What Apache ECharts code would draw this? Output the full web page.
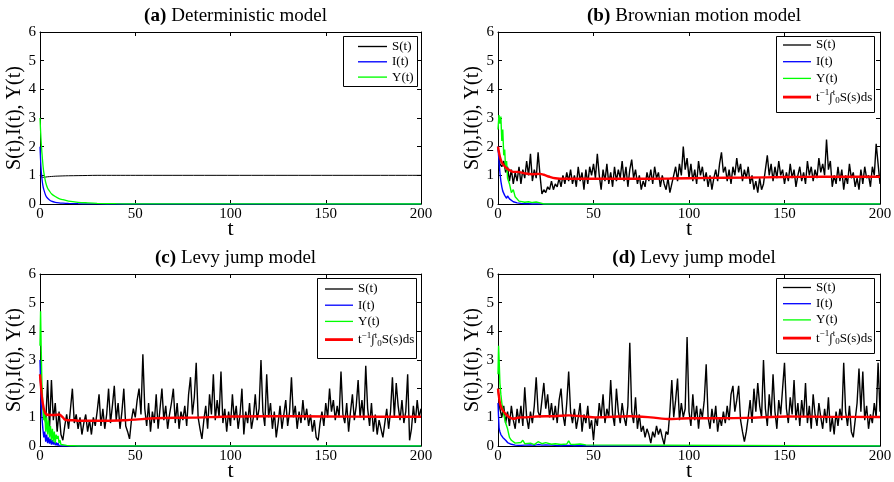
<!DOCTYPE html>
<html>
<head>
<meta charset="utf-8">
<script src="https://cdn.jsdelivr.net/npm/echarts@6/dist/echarts.min.js"></script>
<style>
html,body{margin:0;padding:0;background:#fff;}
#c{width:894px;height:482px;}
</style>
</head>
<body>
<div id="c"></div>
<script>
// ---------- DATA ----------
const panelTitles = [['(a)', 'Deterministic model'], ['(b)', 'Brownian motion model'], ['(c)', 'Levy jump model'], ['(d)', 'Levy jump model']];
const xTicks = [0, 50, 100, 150, 200];
const yTicks = [0, 1, 2, 3, 4, 5, 6];
const seriesNames = ['S(t)', 'I(t)', 'Y(t)', 'avg'];

// (a) deterministic
const tA = [0,0.5,1,1.5,2,3,4,5,6,8,10,12,15,20,25,30,40,50,200];
const sA = [1.0,0.96,0.94,0.93,0.93,0.94,0.95,0.955,0.96,0.97,0.975,0.98,0.985,0.99,0.995,1.0,1.0,1.0,1.0];
const iA = [2.0,1.3,0.9,0.65,0.5,0.3,0.2,0.14,0.1,0.06,0.04,0.03,0.02,0.01,0.005,0.002,0,0,0];
const yA = [3.0,2.3,1.8,1.4,1.1,0.75,0.55,0.45,0.36,0.26,0.19,0.15,0.1,0.06,0.04,0.025,0.01,0.005,0];

// (b) Brownian motion: S(t) at t = 0,1,...,200
const sB = [
2.0,1.4,1.3,1.5,1.1,1.3,0.8,1.2,0.7,1.1,
0.8,1.3,0.7,1.2,0.9,1.5,1.0,1.75,0.8,1.2,
0.9,1.8,1.0,0.35,0.5,0.4,0.6,0.5,0.8,0.5,
0.7,0.6,0.9,0.6,1.0,0.7,1.1,0.8,1.2,0.7,
1.0,0.6,1.3,0.8,1.1,0.5,1.2,0.7,1.3,1.0,
1.4,0.9,1.75,1.0,0.5,1.2,0.8,1.4,0.7,1.1,
0.6,1.3,0.8,1.2,0.9,1.5,0.8,1.3,0.6,1.2,
1.55,0.9,1.2,0.7,1.0,0.5,0.8,0.6,1.1,0.8,
1.2,0.7,1.3,0.9,1.1,0.6,1.0,0.7,0.5,0.9,
0.4,0.7,1.0,1.3,0.8,1.4,1.0,2.0,1.2,1.6,
0.9,1.4,0.8,1.2,0.7,1.5,1.0,1.3,0.8,1.1,
0.6,1.0,0.5,0.9,1.2,0.8,1.4,1.8,1.1,1.3,
0.8,1.2,0.7,1.3,1.0,1.6,1.1,1.4,0.8,1.2,
0.9,1.3,0.7,1.0,0.5,0.8,0.4,0.9,0.5,0.7,
1.2,1.7,1.0,1.4,0.8,1.3,0.9,1.5,1.0,1.2,
0.7,1.1,0.8,1.4,0.9,1.2,0.6,1.0,1.3,0.8,
1.1,0.7,1.5,1.0,1.3,0.8,1.2,0.9,1.6,1.1,
1.4,1.0,2.25,1.2,1.5,0.6,1.0,0.7,1.3,0.8,
1.2,0.5,1.0,0.7,1.4,0.9,1.1,0.6,0.9,0.5,
1.2,0.7,1.3,0.9,1.0,0.6,1.3,1.0,2.1,1.4,
0.7];
const tB = [0,0.5,1,1.5,2,2.5,3,3.5,4,4.5,5,6,7,8,9,10,11,12,14,16,18,20,22,23,24,200];
const iB = [2.0,1.5,1.1,0.8,0.6,0.45,0.5,0.3,0.35,0.2,0.28,0.18,0.15,0.08,0.1,0.04,0.05,0.02,0.01,0.01,0,0,0,0,0,0];
const yB = [2.6,3.1,2.8,3.05,2.2,2.6,1.7,1.9,1.2,1.5,0.9,0.7,0.4,0.5,0.25,0.2,0.1,0.12,0.06,0.08,0.05,0.07,0.04,0.06,0,0];
const avgTB = [0,1,2,3,4,5,6,8,10,14,18,22,24,27,30,35,50,70,90,110,130,150,170,200];
const avgB = [2.0,1.65,1.45,1.35,1.28,1.22,1.18,1.12,1.12,1.07,1.04,1.05,1.02,0.95,0.9,0.88,0.88,0.88,0.89,0.91,0.92,0.94,0.95,0.95];

// (c) Levy jump model
const sC = [
2.5,1.6,1.2,0.8,2.3,0.6,2.3,0.9,1.5,0.5,
1.2,0.4,0.2,0.7,1.1,0.6,1.3,2.0,0.8,1.1,
0.6,1.0,0.4,0.8,1.1,0.5,0.9,0.4,1.0,0.7,
1.2,1.8,0.7,1.3,0.6,1.1,2.0,0.8,1.4,2.1,
0.9,1.5,0.6,1.2,2.0,0.7,0.5,0.25,0.9,1.3,
1.0,1.6,2.0,1.1,3.2,1.3,0.7,1.5,0.5,1.2,
0.8,1.8,0.6,1.3,2.0,0.9,1.4,0.6,1.1,1.5,
2.0,0.8,1.5,0.6,1.2,0.9,1.4,0.7,1.8,2.4,
1.1,1.7,2.9,1.0,0.6,0.25,0.9,1.4,0.6,1.8,
1.1,2.5,0.9,1.6,1.0,2.6,0.8,1.3,0.5,1.2,
0.7,1.8,0.9,1.4,0.6,1.1,2.0,0.4,1.2,0.8,
1.5,0.6,1.0,1.8,0.9,1.3,3.0,1.2,0.7,2.5,
1.0,1.5,0.6,1.2,0.3,0.8,1.4,0.6,1.1,1.6,
0.7,1.2,2.4,1.0,1.4,0.6,1.2,0.8,1.6,0.9,
1.3,0.7,1.1,0.5,0.9,0.3,0.2,0.8,1.2,0.7,
1.5,1.0,2.0,1.2,1.6,0.9,1.4,1.0,2.6,1.1,
0.8,1.5,0.5,1.2,1.8,0.9,1.4,2.3,1.0,1.6,
0.9,2.8,1.3,0.7,1.5,0.5,1.1,0.4,0.9,0.6,
0.3,0.8,1.3,0.6,1.2,2.4,1.0,2.2,1.4,0.9,
1.6,0.8,1.2,2.5,0.2,0.6,1.4,0.8,1.6,1.0,
1.3];
const tC = [0,0.3,0.6,1,1.5,2,2.5,3,3.5,4,4.5,5,5.5,6,6.5,7,7.5,8,8.5,9,9.5,10,10.5,11,12,14,16,18,20,200];
const iC = [3.0,2.2,1.5,1.0,0.6,0.3,0.5,0.15,0.4,0.1,0.3,0.08,0.25,0.05,0.2,0.05,0.15,0.03,0.12,0.02,0.1,0.01,0.05,0,0,0,0,0,0,0];
const yC = [3.5,4.7,3.5,2.2,1.4,0.9,1.2,0.5,1.0,0.4,0.9,0.3,0.7,0.2,0.6,0.15,0.5,0.1,0.4,0.25,0.35,0.1,0.2,0.05,0.02,0.02,0.01,0.01,0,0];
const avgTC = [0,0.5,1,2,3,5,8,10,12,13,15,18,20,25,35,45,50,60,80,100,120,150,180,200];
const avgC = [2.5,2.1,1.7,1.3,1.12,1.08,1.08,1.1,1.0,0.92,0.9,0.9,0.88,0.88,0.88,0.9,0.92,0.97,0.99,1.03,1.04,1.03,1.02,1.02];

// (d) Levy jump model
const sD = [
2.0,1.3,1.0,1.4,0.8,1.2,0.7,1.4,0.9,0.6,
1.3,0.8,1.4,0.7,2.05,1.0,0.6,1.2,0.8,1.4,
2.4,1.2,1.0,1.6,2.2,1.3,1.8,1.0,1.5,0.9,
1.4,0.8,1.6,2.0,1.1,0.7,1.5,2.6,1.2,0.8,
1.3,0.6,1.0,1.5,0.5,1.1,0.8,1.4,0.6,0.9,
0.2,1.0,0.7,1.5,1.0,1.8,0.8,1.3,1.0,2.3,
1.1,0.7,2.0,1.2,0.8,1.5,1.0,0.7,1.4,3.6,
1.2,0.8,1.7,0.6,1.1,0.5,0.7,0.3,0.6,0.4,
0.1,0.5,0.3,0.7,0.4,0.6,0.3,0.05,0.5,0.4,
1.2,2.3,1.0,1.6,2.35,0.9,1.5,1.0,1.3,3.8,
1.2,0.7,1.8,0.9,1.4,0.6,1.3,1.0,1.6,2.85,
1.0,0.6,1.3,0.8,1.4,0.5,1.0,0.7,1.2,0.8,
1.4,0.9,1.8,2.1,1.2,1.6,2.1,0.9,0.5,0.15,
0.5,1.0,1.6,0.8,2.0,1.2,2.2,1.4,1.0,3.0,
1.3,0.7,1.8,1.0,2.5,1.2,0.6,1.6,1.1,2.0,
2.9,1.3,0.8,1.7,1.1,2.3,0.9,1.5,0.7,1.6,
1.0,2.2,0.8,1.4,0.6,1.8,1.1,0.7,1.5,1.0,
0.6,1.3,0.8,1.7,0.5,1.0,0.4,1.2,0.7,1.3,
0.9,2.9,1.2,0.7,1.4,0.5,0.3,0.9,1.5,2.7,
1.2,2.6,0.9,1.4,0.6,1.1,0.8,1.5,1.0,2.9,
1.2];
const tD = [0,0.3,0.6,1,1.5,2,2.5,3,4,5,6,7,8,9,10,12,13,14,15,17,19,21,23,25,26,28,30,33,36,37,38,40,43,46,47,200];
const iD = [1.5,1.0,0.6,0.5,0.4,0.35,0.3,0.25,0.2,0.12,0.08,0.06,0.05,0.03,0.04,0.02,0.05,0.03,0.02,0.04,0.02,0.05,0.03,0.04,0.02,0.03,0.02,0.01,0.02,0.04,0.02,0.01,0.02,0.01,0,0];
const yD = [2.5,3.5,3.0,2.2,1.8,1.5,1.3,1.1,0.8,0.6,0.3,0.2,0.15,0.1,0.08,0.12,0.2,0.08,0.06,0.1,0.05,0.15,0.08,0.12,0.15,0.06,0.08,0.05,0.07,0.18,0.06,0.05,0.07,0.04,0,0];
const avgTD = [0,1,2,3,4,6,8,10,12,15,20,30,37,45,51,60,69,80,90,100,115,130,152,170,200];
const avgD = [2.0,1.5,1.3,1.2,1.12,1.0,0.95,0.98,1.0,1.0,1.03,1.04,1.07,1.03,1.0,1.02,1.04,1.0,0.94,0.97,0.97,0.98,1.03,1.02,1.01];

// ---------- BUILD ----------
const FONT = '"Liberation Serif", "Times New Roman", serif';
const pairs = (ts, vs) => ts.map((t, i) => [t, vs[i]]);
const unitPairs = (vs) => vs.map((v, i) => [i, v]);

const grids = [
  {left: 40, top: 32, width: 381, height: 172},
  {left: 498, top: 32, width: 382, height: 172},
  {left: 40, top: 274, width: 381, height: 172},
  {left: 498, top: 274, width: 382, height: 172}
];

const xAxes = [], yAxes = [];
grids.forEach((g, i) => {
  const common = {
    gridIndex: i, type: 'value',
    axisLine: {show: true, onZero: false, lineStyle: {color: '#000', width: 1}},
    axisTick: {show: true, inside: true, length: 4, lineStyle: {color: '#000'}},
    splitLine: {show: false}
  };
  const xr = {min: xTicks[0], max: xTicks[xTicks.length - 1], interval: xTicks[1] - xTicks[0]};
  const yr = {min: yTicks[0], max: yTicks[yTicks.length - 1], interval: yTicks[1] - yTicks[0]};
  xAxes.push(Object.assign({}, common, xr, {
    axisLabel: {fontFamily: FONT, fontSize: 15, color: '#000', margin: 3},
    name: 't', nameLocation: 'middle', nameGap: 14, nameMoveOverlap: false,
    nameTextStyle: {fontFamily: FONT, fontSize: 22, color: '#000'}
  }));
  xAxes.push(Object.assign({}, common, xr, {position: 'top', axisLabel: {show: false}}));
  yAxes.push(Object.assign({}, common, yr, {
    axisLabel: {fontFamily: FONT, fontSize: 15, color: '#000', margin: 4},
    name: 'S(t),I(t), Y(t)', nameLocation: 'middle', nameGap: 15, nameRotate: 90, nameMoveOverlap: false,
    nameTextStyle: {fontFamily: FONT, fontSize: 20, color: '#000'}
  }));
  yAxes.push(Object.assign({}, common, yr, {position: 'right', axisLabel: {show: false}}));
});

const BLACK = '#000000', BLUE = '#0000ff', GREEN = '#00ff00', RED = '#ff0000';
const nameColor = {'S(t)': BLACK, 'I(t)': BLUE, 'Y(t)': GREEN, 'avg': RED};

function line(name, panel, data, width, smooth) {
  const color = nameColor[name];
  return {
    name: name, type: 'line', xAxisIndex: panel * 2, yAxisIndex: panel * 2,
    data: data, symbol: 'none', showSymbol: false, smooth: smooth || false,
    lineStyle: {color: color, width: width}, itemStyle: {color: color},
    animation: false, silent: true, clip: true
  };
}

const series = [
  line('S(t)', 0, pairs(tA, sA), 1, 0.3),
  line('I(t)', 0, pairs(tA, iA), 1.3, 0.3),
  line('Y(t)', 0, pairs(tA, yA), 1.3, 0.3),

  line('S(t)', 1, unitPairs(sB), 1.4),
  line('I(t)', 1, pairs(tB, iB), 1.4),
  line('Y(t)', 1, pairs(tB, yB), 1.4),
  line('avg', 1, pairs(avgTB, avgB), 2.4, 0.3),

  line('S(t)', 2, unitPairs(sC), 1.4),
  line('I(t)', 2, pairs(tC, iC), 1.4),
  line('Y(t)', 2, pairs(tC, yC), 1.4),
  line('avg', 2, pairs(avgTC, avgC), 2.4, 0.3),

  line('S(t)', 3, unitPairs(sD), 1.4),
  line('I(t)', 3, pairs(tD, iD), 1.4),
  line('Y(t)', 3, pairs(tD, yD), 1.4),
  line('avg', 3, pairs(avgTD, avgD), 2.4, 0.3)
];

const titles = panelTitles.map((pt, i) => ({
  text: '{b|' + pt[0] + '} {r|' + pt[1] + '}',
  left: grids[i].left + grids[i].width / 2,
  top: i < 2 ? 2 : 244,
  textAlign: 'center',
  textStyle: {
    rich: {
      b: {fontFamily: FONT, fontSize: 19, fontWeight: 'bold', color: '#000'},
      r: {fontFamily: FONT, fontSize: 19, fontWeight: 'normal', color: '#000'}
    }
  }
}));

const legendRich = {
  n: {fontFamily: FONT, fontSize: 13, color: '#000'},
  sup: {fontFamily: FONT, fontSize: 9, color: '#000', verticalAlign: 'top', lineHeight: 10},
  sub: {fontFamily: FONT, fontSize: 9, color: '#000', verticalAlign: 'bottom', padding: [8, 0, 0, 0]}
};
function legendFmt(name) {
  if (name === 'avg') return '{n|t}{sup|−1}{n|∫}{sup|t}{sub|0}{n|S(s)ds}';
  return '{n|' + name + '}';
}
const THIN = 'path://M0,0 H30 V1.4 H0 Z';
const THICK = 'path://M0,0 H30 V3 H0 Z';
// box: frame rectangle; left/top: first legend icon position
const legendPos = [
  {box: [343, 36, 74, 50], left: 358, top: 40, w: 29, gap: 2.3, n: 3},
  {box: [776, 36, 98, 76], left: 783, top: 38.5, w: 28, gap: 3.7, n: 4},
  {box: [317, 278, 99, 80], left: 325, top: 282.5, w: 28, gap: 3.2, n: 4},
  {box: [776, 278, 98, 75], left: 783, top: 281, w: 28, gap: 3.2, n: 4}
];
const legends = legendPos.map(lp => ({
  data: seriesNames.slice(0, lp.n).map(n => ({
    name: n, icon: n === 'avg' ? THICK : THIN, itemStyle: {color: nameColor[n]}
  })),
  orient: 'vertical', left: lp.left, top: lp.top,
  itemWidth: lp.w, itemHeight: 13, itemGap: lp.gap,
  padding: 0, symbolKeepAspect: true,
  borderWidth: 0, z: 6,
  selectedMode: false,
  formatter: legendFmt,
  textStyle: {fontFamily: FONT, fontSize: 13, color: '#000', rich: legendRich}
}));

const boxes = legendPos.map(lp => ({
  type: 'rect', z: 5,
  shape: {x: lp.box[0] + 0.5, y: lp.box[1] + 0.5, width: lp.box[2], height: lp.box[3]},
  style: {fill: '#fff', stroke: '#000', lineWidth: 1}
}));

const chart = echarts.init(document.getElementById('c'), null, {renderer: 'canvas'});
chart.setOption({
  animation: false,
  backgroundColor: '#fff',
  title: titles,
  legend: legends,
  graphic: boxes,
  grid: grids.map(g => Object.assign({show: false, containLabel: false, outerBoundsMode: 'none'}, g)),
  xAxis: xAxes,
  yAxis: yAxes,
  series: series
});
</script>
</body>
</html>
